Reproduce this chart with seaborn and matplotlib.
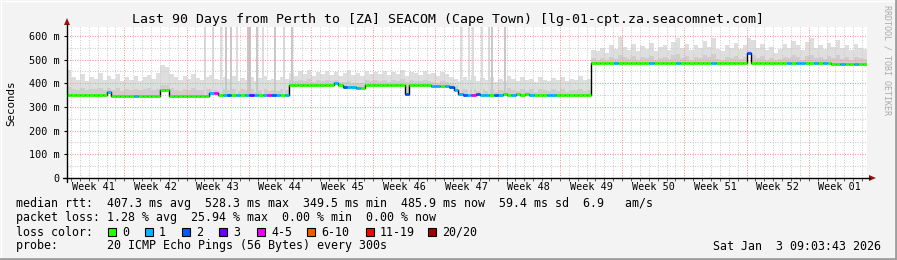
import numpy as np
import pandas as pd
import matplotlib
matplotlib.use("Agg")
import matplotlib.pyplot as plt
import seaborn as sns
from matplotlib.patches import Rectangle, Polygon
from matplotlib.lines import Line2D

# ---------------- data (half-day samples over 90 days) ----------------
median_ms = [
    352, 352, 352, 352, 352, 352, 352, 352, 352, 364,
    348, 348, 348, 348, 348, 348, 348, 348, 348, 348,
    348, 373, 373, 347, 347, 347, 347, 347, 347, 347,
    347, 347, 358, 358, 352, 351, 352, 351, 352, 352,
    351, 352, 352, 351, 352, 352, 351, 352, 352, 352,
    395, 395, 395, 395, 395, 395, 395, 395, 395, 395,
    401, 395, 383, 383, 383, 380, 380, 394, 394, 394,
    394, 394, 394, 394, 394, 394, 355, 393, 393, 393,
    393, 393, 389, 389, 389, 389, 383, 370, 356, 352,
    352, 352, 353, 352, 352, 352, 352, 352, 353, 352,
    352, 356, 352, 357, 352, 352, 352, 352, 352, 352,
    352, 352, 352, 352, 352, 352, 352, 352, 486, 485,
    485, 485, 485, 485, 485, 485, 485, 485, 485, 485,
    485, 485, 485, 485, 485, 485, 485, 485, 485, 485,
    485, 485, 485, 485, 485, 485, 485, 485, 485, 485,
    485, 485, 485, 530, 484, 484, 484, 484, 484, 484,
    484, 484, 484, 484, 484, 484, 484, 484, 484, 484,
    484, 484, 483, 483, 483, 483, 482, 482, 482, 482,
]
loss_count = [
    0, 0, 0, 0, 0, 0, 0, 0, 0, 1,
    0, 0, 0, 0, 0, 1, 0, 0, 0, 0,
    0, 0, 0, 0, 0, 0, 0, 0, 0, 0,
    0, 0, 1, 4, 0, 1, 2, 0, 1, 0,
    1, 3, 1, 0, 1, 4, 2, 1, 0, 1,
    0, 0, 0, 0, 0, 0, 0, 0, 0, 0,
    1, 0, 2, 1, 1, 1, 0, 0, 0, 0,
    0, 0, 0, 0, 0, 0, 2, 0, 0, 0,
    0, 0, 1, 1, 0, 1, 2, 1, 1, 2,
    1, 4, 2, 1, 1, 0, 2, 1, 0, 0,
    1, 0, 0, 0, 1, 0, 0, 0, 1, 1,
    0, 0, 0, 0, 0, 0, 0, 0, 0, 0,
    0, 0, 0, 1, 0, 0, 0, 0, 0, 0,
    0, 1, 0, 0, 0, 0, 0, 1, 0, 0,
    0, 0, 0, 0, 0, 1, 0, 0, 0, 0,
    0, 0, 0, 2, 0, 0, 0, 0, 0, 0,
    0, 0, 1, 0, 1, 1, 0, 0, 1, 0,
    1, 0, 0, 0, 1, 0, 0, 1, 0, 0,
]
smoke_max = [
    455, 428, 415, 440, 410, 425, 418, 445, 412, 432,
    420, 438, 408, 425, 415, 432, 410, 428, 436, 418,
    445, 478, 470, 440, 425, 412, 430, 418, 440, 422,
    415, 428, 435, 420, 412, 426, 418, 430, 410, 424,
    416, 428, 410, 422, 430, 412, 420, 415, 425, 418,
    445, 432, 450, 438, 455, 430, 446, 440, 452, 435,
    448, 430, 442, 455, 436, 444, 432, 450, 440, 446,
    438, 452, 434, 446, 440, 456, 430, 448, 442, 436,
    450, 438, 444, 432, 446, 440, 425, 418, 410, 425,
    415, 430, 408, 422, 412, 428, 405, 420, 410, 432,
    418, 408, 425, 412, 420, 405, 428, 415, 410, 422,
    412, 425, 408, 420, 415, 430, 412, 418, 540, 535,
    548, 530, 560, 545, 595, 552, 540, 565, 535, 558,
    546, 570, 538, 552, 560, 542, 575, 590, 550, 565,
    540, 560, 548, 580, 555, 590, 545, 535, 560, 550,
    572, 545, 560, 590, 585, 548, 568, 540, 555, 530,
    545, 565, 550, 580, 560, 540, 575, 592, 550, 560,
    545, 570, 555, 585, 548, 560, 540, 565, 550, 545,
]
smoke_mid = [
    385, 375, 372, 380, 370, 378, 374, 382, 370, 380,
    372, 380, 368, 376, 372, 378, 370, 375, 382, 372,
    378, 395, 392, 380, 372, 368, 376, 370, 380, 372,
    370, 376, 378, 372, 368, 375, 370, 378, 366, 374,
    370, 376, 365, 372, 378, 366, 372, 368, 375, 370,
    412, 408, 415, 410, 418, 406, 414, 410, 416, 408,
    416, 406, 405, 408, 402, 400, 402, 412, 408, 414,
    410, 416, 406, 412, 408, 418, 404, 414, 410, 408,
    415, 410, 405, 402, 408, 404, 398, 390, 372, 374,
    370, 378, 366, 374, 368, 376, 364, 372, 368, 380,
    372, 366, 376, 368, 374, 364, 378, 370, 366, 374,
    368, 376, 364, 372, 370, 378, 366, 372, 505, 500,
    508, 498, 512, 504, 520, 510, 502, 514, 500, 510,
    506, 516, 500, 508, 512, 504, 518, 522, 508, 514,
    500, 512, 506, 518, 510, 522, 504, 500, 512, 508,
    516, 504, 510, 535, 520, 506, 514, 500, 508, 498,
    504, 512, 508, 518, 510, 500, 516, 520, 506, 512,
    504, 514, 508, 520, 504, 510, 500, 512, 506, 504,
]
# short outliers reaching the top of the chart (day, top ms, pings high)
spike_day = [15.5, 16.4, 17.3, 17.9, 18.45, 19.1, 20.4, 20.6, 21.4, 22.0,
             23.4, 24.4, 25.3, 44.3, 45.2, 45.7, 46.7, 47.5, 47.8, 49.3]
spike_top = [700, 700, 700, 700, 700, 700, 700, 700, 700, 700,
             700, 700, 700, 700, 700, 700, 700, 700, 700, 700]
spike_pings = [1, 1, 1, 2, 2, 1, 2, 2, 2, 1,
               2, 1, 2, 1, 1, 1, 1, 1, 2, 2]

week_labels = ["Week 41", "Week 42", "Week 43", "Week 44", "Week 45", "Week 46",
               "Week 47", "Week 48", "Week 49", "Week 50", "Week 51", "Week 52",
               "Week 01"]
y_values = [0, 100, 200, 300, 400, 500, 600]
y_labels = ["0", "100 m", "200 m", "300 m", "400 m", "500 m", "600 m"]

loss_names = ["0", "1", "2", "3", "4-5", "6-10", "11-19", "20/20"]
loss_colors = ["#26ff00", "#00b8ff", "#0059ff", "#6a00ff", "#ee00ff",
               "#ff5500", "#ff0000", "#a10000"]

title = "Last 90 Days from Perth to [ZA] SEACOM (Cape Town) [lg-01-cpt.za.seacomnet.com]"
row1 = "median rtt:  407.3 ms avg  528.3 ms max  349.5 ms min  485.9 ms now  59.4 ms sd  6.9   am/s"
row2 = "packet loss: 1.28 % avg  25.94 % max  0.00 % min  0.00 % now"
row3 = "loss color:"
row4 = "probe:       20 ICMP Echo Pings (56 Bytes) every 300s"
stamp = "Sat Jan  3 09:03:43 2026"

# ---------------- figure ----------------
sns.set_theme(style="white")
plt.rcParams["font.family"] = ["DejaVu Sans Mono", "DejaVu Sans"]

W, H = 897, 260
fig = plt.figure(figsize=(W / 100, H / 100), dpi=100, facecolor="#f3f3f3")


def fx(x):
    return x / W


def fy(y):
    return 1 - y / H


ax = fig.add_axes([fx(67), fy(178), (867 - 67) / W, (178 - 27) / H])
ax.set_facecolor("white")
ax.set_xlim(0, 90)
ax.set_ylim(0, 638)

med = np.array(median_ms, dtype=float)
n = len(med)
edges = np.linspace(0, 90, n + 1)
med_e = np.append(med, med[-1])

# smoke
ax.fill_between(edges, med_e - 4, np.append(smoke_max, smoke_max[-1]),
                step="post", color="#dedede", lw=0, zorder=1)
ax.fill_between(edges, med_e - 3, np.append(smoke_mid, smoke_mid[-1]),
                step="post", color="#cecece", lw=0, zorder=1.1)
idx = np.clip((np.array(spike_day) / 90 * n).astype(int), 0, n - 1)
base = med[idx]
shade = ["#dcdcdc" if p == 1 else "#c8c8c8" for p in spike_pings]
ax.bar(spike_day, np.array(spike_top) - base, bottom=base, width=0.22,
       color=shade, lw=0, zorder=1.2)

# grid (drawn over the smoke like rrdtool)
day_lines = np.arange(0.45, 90, 1.0)
week_lines = np.arange(6.45, 90, 7.0)
week_centers = np.arange(2.95, 90, 7.0)
minor_days = [d for d in day_lines if min(abs(d - week_lines)) > 0.01]
ax.vlines(minor_days, 0, 638, colors="#cdcdcd", linestyles=(0, (1, 1.4)), lw=0.75, zorder=2)
ax.hlines(np.arange(50, 638, 100), 0, 90, colors="#cdcdcd", linestyles=(0, (1, 1.4)), lw=0.75, zorder=2)
ax.vlines(week_lines, 0, 638, colors="#f09a9a", linestyles=(0, (1, 1.4)), lw=0.75, zorder=2.1)
ax.hlines(y_values[1:], 0, 90, colors="#f09a9a", linestyles=(0, (1, 1.4)), lw=0.75, zorder=2.1)

# median: black connectors + loss-coloured segments
df = pd.DataFrame({"day": edges, "rtt": med_e})
sns.lineplot(data=df, x="day", y="rtt", drawstyle="steps-post", color="black",
             lw=1.0, ax=ax, zorder=3, estimator=None)


def loss_class(c):
    if c <= 3:
        return c
    if c <= 5:
        return 4
    if c <= 10:
        return 5
    if c <= 19:
        return 6
    return 7


cls = np.array([loss_class(c) for c in loss_count])
for k, col in enumerate(loss_colors):
    m = cls == k
    if m.any():
        ax.hlines(med[m], edges[:-1][m], edges[1:][m], colors=col, lw=2.0,
                  zorder=4, capstyle="butt")

# ticks
ax.set_xticks(week_centers)
ax.set_xticklabels(week_labels)
ax.set_xticks(day_lines, minor=True)
ax.set_yticks(y_values)
ax.set_yticklabels(y_labels)
ax.tick_params(axis="x", which="major", length=0, pad=3.2, labelsize=7.3, colors="black")
ax.tick_params(axis="x", which="minor", length=2, width=0.6, direction="out", bottom=True, color="#444444")
ax.tick_params(axis="y", which="major", length=2.5, width=0.8, pad=3.0, labelsize=7.3,
               left=True, direction="out", color="black", labelcolor="black")
for s in ax.spines.values():
    s.set_visible(False)
ax.set_xlabel("")
ax.set_ylabel("")

# axis lines with arrowheads
fig.add_artist(Line2D([fx(63), fx(870)], [fy(178), fy(178)], color="black", lw=1.0))
fig.add_artist(Line2D([fx(67), fx(67)], [fy(182), fy(24)], color="black", lw=1.0))
fig.add_artist(Polygon([(fx(869), fy(175)), (fx(876), fy(178)), (fx(869), fy(181))],
                       closed=True, color="#9b1010", lw=0))
fig.add_artist(Polygon([(fx(64), fy(25)), (fx(67), fy(18)), (fx(70), fy(25))],
                       closed=True, color="#9b1010", lw=0))

# texts
fig.text(fx(448), fy(19), title, ha="center", va="center", fontsize=9.5, color="black")
fig.text(fx(11), fy(103), "Seconds", rotation=90, ha="center", va="center", fontsize=7.8, color="black")
fig.text(fx(887), fy(60), "RRDTOOL / TOBI OETIKER", rotation=270, ha="center", va="center",
         fontsize=6.0, color="#aaaaaa")
fig.text(fx(16), fy(204), row1, ha="left", va="center", fontsize=8.4, color="black")
fig.text(fx(16), fy(218), row2, ha="left", va="center", fontsize=8.4, color="black")
fig.text(fx(16), fy(232), row3, ha="left", va="center", fontsize=8.4, color="black")
fig.text(fx(16), fy(246), row4, ha="left", va="center", fontsize=8.4, color="black")
fig.text(fx(881), fy(246), stamp, ha="right", va="center", fontsize=8.4, color="black")

box_x = [108, 145, 182, 219, 257, 307, 366, 428]
for bx, name, col in zip(box_x, loss_names, loss_colors):
    fig.add_artist(Rectangle((fx(bx), fy(236)), 8 / W, 8 / H, facecolor=col,
                             edgecolor="black", lw=0.8))
    fig.text(fx(bx + 14), fy(232), name, ha="left", va="center", fontsize=8.4, color="black")

# 3D frame
fig.add_artist(Line2D([fx(0), fx(897)], [fy(0.5), fy(0.5)], color="#ffffff", lw=1.0))
fig.add_artist(Line2D([fx(0.5), fx(0.5)], [fy(0), fy(260)], color="#ffffff", lw=1.0))
fig.add_artist(Line2D([fx(0), fx(897)], [fy(258.5), fy(258.5)], color="#9e9e9e", lw=2.0))
fig.add_artist(Line2D([fx(895.5), fx(895.5)], [fy(0), fy(260)], color="#9e9e9e", lw=2.0))

fig.savefig("out.png", dpi=100, facecolor=fig.get_facecolor())
